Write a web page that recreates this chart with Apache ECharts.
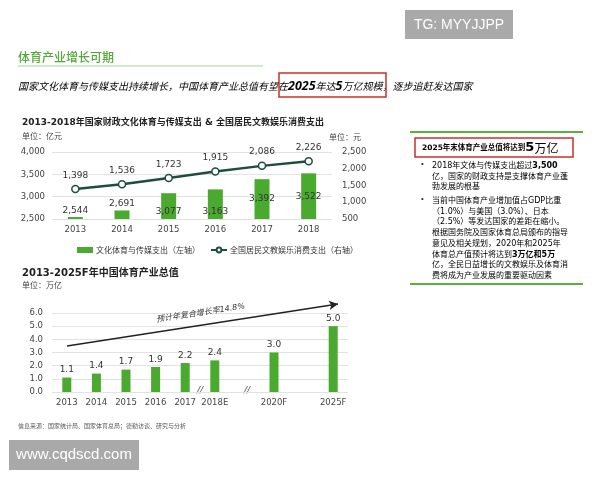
<!DOCTYPE html>
<html><head><meta charset="utf-8">
<script src="https://cdn.jsdelivr.net/npm/echarts@6/dist/echarts.min.js"></script>
<style>html,body{margin:0;padding:0;background:#fff}#c{width:600px;height:480px}</style>
</head><body><div id="c"></div>
<script>
// ---- data ----
const years1 = ['2013','2014','2015','2016','2017','2018'];
const govSpend = [2544, 2691, 3077, 3163, 3392, 3522];          // 亿元, left axis
const residentSpend = [1398, 1536, 1723, 1915, 2086, 2226];     // 元, right axis
const leftAxisRange = [2500, 4000, 500];   // min, max, interval
const rightAxisRange = [500, 2500, 500];
const years2 = ['2013','2014','2015','2016','2017','2018E','','2020F','','2025F'];
const industryValue = [1.1, 1.4, 1.7, 1.9, 2.2, 2.4, null, 3.0, null, 5.0]; // 万亿
const axis2Range = [0, 6, 1];
const seriesNames = ['文化体育与传媒支出（左轴）', '全国居民文教娱乐消费支出（右轴）'];
const cagrText = '预计年复合增长率14.8%';

// ---- styles ----
const GREEN = '#4aa92f', DARK = '#1e4e3c', GRID = '#e2e2e2', TXT = '#444';
const NUM = 'DejaVu Sans, "Noto Sans CJK SC", sans-serif';
const CJK = '"Noto Sans CJK SC", sans-serif';
const fmt = v => Number(v).toLocaleString('en-US');

const chart = echarts.init(document.getElementById('c'), null, {renderer: 'canvas'});

const panelLines = [
  ['•', '2018年文体与传媒支出超过{b|3,500}'],
  ['', '亿，国家的财政支持是支撑体育产业蓬'],
  ['', '勃发展的根基'],
  ['•', '当前中国体育产业增加值占GDP比重'],
  ['', '（1.0%）与美国（3.0%）、日本'],
  ['', '（2.5%）等发达国家的差距在缩小。'],
  ['', '根据国务院及国家体育总局颁布的指导'],
  ['', '意见及相关规划，2020年和2025年'],
  ['', '体育总产值预计将达到{b|3万亿和5万}'],
  ['', '亿，全民日益增长的文教娱乐及体育消'],
  ['', '费将成为产业发展的重要驱动因素']
];
const panelY = [166, 176.7, 187.4, 201, 211.7, 222.4, 233.1, 243.8, 254.5, 265.2, 275.9];
const panelGraphics = [];
panelLines.forEach((l, i) => {
  if (l[0]) panelGraphics.push({type:'text', left:421, top:panelY[i]-6, style:{text:'•', fontSize:8, fill:'#333', font:'8px ' + CJK}});
  panelGraphics.push({type:'text', x:432, y:panelY[i], style:{text:'{a|' + l[1].replace(/\{b\|([^}]*)\}/g, '}{b|$1}{a|') + '}', verticalAlign:'middle',
    rich:{a:{fontSize:8, fontFamily:NUM, color:'#3a3a3a'}, b:{fontSize:8, fontWeight:'bold', fontFamily:NUM, color:'#222'}}}});
});

const option = {
  animation: false,
  backgroundColor: '#fff',
  graphic: [
    // watermark top
    {type:'rect', shape:{x:405, y:10, width:108, height:29}, style:{fill:'#a9a9a9'}},
    {type:'text', x:459, y:25, style:{text:'TG: MYYJJPP', fill:'#fff', font:'14px "Liberation Sans", Arial', align:'center', verticalAlign:'middle'}},
    // headline
    {type:'text', x:18, y:57, style:{text:'体育产业增长可期', fill:'#54a83a', font:'500 12px ' + CJK, verticalAlign:'middle'}},
    {type:'line', shape:{x1:18, y1:66, x2:263, y2:66}, style:{stroke:'#a9d196', lineWidth:1}},
    {type:'text', x:18, y:86, style:{verticalAlign:'middle',
      text:'{a|国家文化体育与传媒支出持续增长，中国体育产业总值有望在}{b|2025}{a|年达}{b|5}{a|万亿规模，逐步追赶发达国家}',
      rich:{a:{fontSize:10, fontStyle:'italic', fontFamily:CJK, color:'#222'}, b:{fontSize:12.5, fontWeight:'bold', fontStyle:'italic', fontFamily:'"Noto Sans", sans-serif', color:'#111'}}}},
    {type:'rect', shape:{x:279, y:73, width:107, height:24}, style:{fill:'none', stroke:'#c9302c', lineWidth:1.5}},
    // chart 1 titles
    {type:'text', x:22, y:123, style:{text:'2013-2018年国家财政文化体育与传媒支出 & 全国居民文教娱乐消费支出', fill:'#222', font:'bold 9px ' + NUM, verticalAlign:'middle'}},
    {type:'text', x:22, y:136, style:{text:'单位：亿元', fill:TXT, font:'8px ' + CJK, verticalAlign:'middle'}},
    {type:'text', x:329, y:137, style:{text:'单位：元', fill:TXT, font:'8px ' + CJK, verticalAlign:'middle'}},
    // chart 2 titles
    {type:'text', x:22, y:273, style:{text:'2013-2025F年中国体育产业总值', fill:'#222', font:'bold 10px ' + NUM, verticalAlign:'middle'}},
    {type:'text', x:22, y:285, style:{text:'单位：万亿', fill:TXT, font:'8px ' + CJK, verticalAlign:'middle'}},
    {type:'text', x:200, y:391, style:{text:'//', fill:'#555', font:'italic 9px ' + NUM, align:'center', verticalAlign:'middle'}},
    {type:'text', x:247, y:391, style:{text:'//', fill:'#555', font:'italic 9px ' + NUM, align:'center', verticalAlign:'middle'}},
    // right panel
    {type:'line', shape:{x1:410, y1:132, x2:583, y2:132}, style:{stroke:'#5cb03c', lineWidth:2}},
    {type:'line', shape:{x1:410, y1:284, x2:583, y2:284}, style:{stroke:'#5cb03c', lineWidth:2}},
    {type:'rect', shape:{x:415, y:138, width:158, height:19}, style:{fill:'none', stroke:'#c9302c', lineWidth:1.5}},
    {type:'text', x:422, y:148, style:{verticalAlign:'middle',
      text:'{a|2025年末体育产业总值将达到}{b|5}{c|万亿}',
      rich:{a:{fontSize:7.5, fontWeight:'bold', fontFamily:NUM, color:'#111'}, b:{fontSize:13, fontWeight:'bold', fontFamily:NUM, color:'#4aa92f'}, c:{fontSize:12, fontFamily:CJK, color:'#4aa92f'}}}},
    ...panelGraphics,
    // footer
    {type:'text', x:18, y:426, style:{text:'信息来源：国家统计局、国家体育总局；德勤访谈、研究与分析', fill:'#555', font:'6px ' + CJK, verticalAlign:'middle'}},
    {type:'rect', shape:{x:9, y:440, width:130, height:30}, style:{fill:'#a9a9a9'}},
    {type:'text', x:74, y:455, style:{text:'www.cqdscd.com', fill:'#fff', font:'15px "Liberation Sans", Arial', align:'center', verticalAlign:'middle'}}
  ],
  legend: {
    left: 72, top: 241, itemWidth: 16, itemHeight: 6, itemGap: 10,
    data: [{name: seriesNames[0], icon: 'rect'}, {name: seriesNames[1]}],
    textStyle: {fontSize: 8, color: '#333', fontFamily: CJK, padding: [0,0,0,-2]}
  },
  grid: [
    {left: 52, right: 268, top: 152, height: 67},
    {left: 52, right: 252, top: 313, height: 79}
  ],
  xAxis: [
    {type:'category', gridIndex:0, data: years1, axisLine:{show:false}, axisTick:{show:false},
     axisLabel:{fontSize:8.5, color:TXT, fontFamily:NUM, margin:7}},
    {type:'category', gridIndex:1, data: years2, axisLine:{show:false}, axisTick:{show:false},
     axisLabel:{fontSize:8.5, color:TXT, fontFamily:NUM, margin:7, interval:0}}
  ],
  yAxis: [
    {type:'value', gridIndex:0, min:leftAxisRange[0], max:leftAxisRange[1], interval:leftAxisRange[2],
     axisLine:{show:false}, axisTick:{show:false}, splitLine:{lineStyle:{color:GRID}},
     axisLabel:{fontSize:8.5, color:TXT, fontFamily:NUM, formatter: fmt, margin:7}},
    {type:'value', gridIndex:0, min:rightAxisRange[0], max:rightAxisRange[1], interval:rightAxisRange[2], position:'right',
     axisLine:{show:false}, axisTick:{show:false}, splitLine:{show:false},
     axisLabel:{fontSize:8.5, color:TXT, fontFamily:NUM, formatter: fmt, margin:10}},
    {type:'value', gridIndex:1, min:axis2Range[0], max:axis2Range[1], interval:axis2Range[2],
     axisLine:{show:false}, axisTick:{show:false}, splitLine:{lineStyle:{color:GRID}},
     axisLabel:{fontSize:8.5, color:TXT, fontFamily:NUM, formatter: v => v.toFixed(1), margin:9}}
  ],
  series: [
    {name: seriesNames[0], type:'bar', xAxisIndex:0, yAxisIndex:0, barWidth:15,
     itemStyle:{color:GREEN},
     data: govSpend.map(v => ({value:v, label:{position: v < 2800 ? 'top' : (v < 3200 ? 'insideBottom' : 'inside'), distance: v < 2800 ? 2 : 3}})),
     label:{show:true, fontSize:9, color:'#333', fontFamily:NUM, formatter: p => fmt(p.value)}},
    {name: seriesNames[1], type:'line', xAxisIndex:0, yAxisIndex:1, data: residentSpend,
     symbol:'circle', symbolSize:7, lineStyle:{color:DARK, width:2.5},
     itemStyle:{color:'#fff', borderColor:DARK, borderWidth:1.5},
     label:{show:true, position:'top', distance:5, fontSize:9, color:'#333', fontFamily:NUM, formatter: p => fmt(p.value)}},
    {name:'体育产业总值', type:'bar', xAxisIndex:1, yAxisIndex:2, barWidth:9, data: industryValue,
     itemStyle:{color:GREEN},
     label:{show:true, position:'top', distance:3, fontSize:9, color:'#333', fontFamily:NUM, formatter: p => p.value == null ? '' : p.value.toFixed(1)},
     markLine:{silent:true, symbol:['none','arrow'], symbolSize:[7,9],
       lineStyle:{color:'#222', width:1.3, type:'solid'},
       label:{show:true, position:'insideMiddleTop', distance:8, formatter: cagrText, fontSize:8, fontStyle:'italic', color:'#333', fontFamily:NUM},
       data:[[{x:67, y:346}, {x:338, y:304}]]}}
  ]
};
chart.setOption(option);
</script>
</body></html>
